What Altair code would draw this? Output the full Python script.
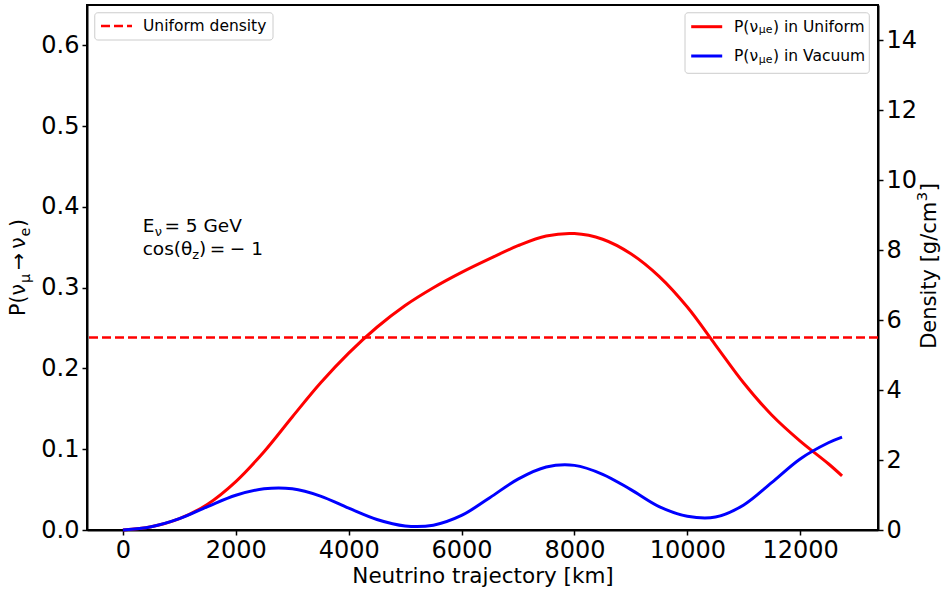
import altair as alt
import pandas as pd

# ---------------- data ----------------
km_uniform = [0, 500, 1000, 1500, 2000, 2500, 3000, 3500, 4000, 4500, 5000, 5500,
              6000, 6500, 7000, 7500, 8000, 8500, 9000, 9500, 10000, 10500, 11000,
              11500, 12000, 12500, 12742]
p_uniform = [0.0, 0.004, 0.014, 0.032, 0.060, 0.097, 0.140, 0.182, 0.219, 0.251, 0.278,
             0.300, 0.319, 0.336, 0.352, 0.364, 0.367, 0.360, 0.342, 0.314, 0.276, 0.229,
             0.182, 0.142, 0.110, 0.082, 0.067]

km_vacuum = [0, 500, 1000, 1500, 2000, 2500, 3000, 3500, 4000, 4500, 5000, 5500,
             6000, 6500, 7000, 7500, 8000, 8500, 9000, 9500, 10000, 10500, 11000,
             11500, 12000, 12500, 12742]
p_vacuum = [0.0, 0.004, 0.014, 0.029, 0.043, 0.051, 0.051, 0.042, 0.027, 0.013, 0.005,
            0.006, 0.018, 0.040, 0.063, 0.078, 0.080, 0.069, 0.050, 0.029, 0.017, 0.016,
            0.031, 0.059, 0.088, 0.108, 0.115]

uniform_density = [5.5]

x_ticks = [0, 2000, 4000, 6000, 8000, 10000, 12000]
p_ticks = [0.0, 0.1, 0.2, 0.3, 0.4, 0.5, 0.6]
density_ticks = [0, 2, 4, 6, 8, 10, 12, 14]

x_title = "Neutrino trajectory [km]"
legend_density_label = "Uniform density"
legend_uniform_label = ["P(ν", "μe", ") in Uniform"]
legend_vacuum_label = ["P(ν", "μe", ") in Vacuum"]
ytitle_pieces = ["P(ν", "μ", "→", "ν", "e", ")"]
density_title_pieces = ["Density [g/cm", "3", "]"]
annot1_pieces = ["E", "ν", "= 5 GeV"]
annot2_pieces = ["cos(θ", "z", ")", "=", "−", "1"]

# ---------------- style ----------------
FONT = "DejaVu Sans"
W, H = 791, 525
RED, BLUE = "#ff0000", "#0000ff"

CW = {'P': .603, '(': .390, ')': .390, 'ν': .592, 'μ': .635, 'e': .615, '→': .838,
      ' ': .318, 'i': .278, 'n': .634, 'U': .732, 'f': .352, 'o': .612, 'r': .411,
      'm': .974, 'V': .684, 'a': .613, 'c': .550, 'u': .634, 'E': .632, '=': .838,
      '5': .636, 'G': .775, 's': .521, 'θ': .602, 'z': .525, '−': .838, '1': .636,
      'D': .770, 'y': .592, 't': .392, '[': .390, ']': .390, 'g': .635, '/': .337,
      '3': .636}


def text_width(s, size):
    return sum(CW.get(ch, 0.6) for ch in s) * size


def pieces_layers(texts, sizes, dys, gaps, x, y, angle=0, baseline="alphabetic",
                  center=False):
    widths = [text_width(t, s) for t, s in zip(texts, sizes)]
    total = sum(widths) + sum(gaps)
    off = -total / 2 if center else 0
    out = []
    for t, s, dy, g, w in zip(texts, sizes, dys, gaps, widths):
        off += g
        out.append(
            alt.Chart(pd.DataFrame({"t": [t]}))
            .mark_text(font=FONT, fontSize=s, align="left", baseline=baseline,
                       dx=off, dy=dy, angle=angle, color="black")
            .encode(x=alt.value(x), y=alt.value(y), text="t:N")
        )
        off += w
    return out


def box(x1, x2, y1, y2):
    return (alt.Chart(pd.DataFrame({"b": [0]}))
            .mark_rect(fill="white", fillOpacity=0.8, stroke="#cccccc", strokeWidth=1,
                       cornerRadius=3)
            .encode(x=alt.value(x1), x2=alt.value(x2), y=alt.value(y1), y2=alt.value(y2)))


def handle(x1, x2, y, color, dash=None, width=3):
    kw = dict(color=color, strokeWidth=width)
    if dash:
        kw["strokeDash"] = dash
    return (alt.Chart(pd.DataFrame({"h": [0]})).mark_rule(**kw)
            .encode(x=alt.value(x1), x2=alt.value(x2), y=alt.value(y)))


# ---------------- main marks ----------------
xscale = alt.Scale(domain=[-637, 13379], nice=False, zero=False)
pscale = alt.Scale(domain=[0, 0.65], nice=False, zero=False)
dscale = alt.Scale(domain=[0, 15], nice=False, zero=False)

xaxis = alt.Axis(values=x_ticks, format="d", title=x_title, titlePadding=3)
paxis = alt.Axis(values=p_ticks, format=".1f", title=None)
daxis = alt.Axis(values=density_ticks, format="d", title=None, orient="right")

df_u = pd.DataFrame({"km": km_uniform, "P": p_uniform})
df_v = pd.DataFrame({"km": km_vacuum, "P": p_vacuum})

red_line = alt.Chart(df_u).mark_line(color=RED, strokeWidth=3, interpolate="catmull-rom").encode(
    x=alt.X("km:Q", scale=xscale, axis=xaxis),
    y=alt.Y("P:Q", scale=pscale, axis=paxis),
)
blue_line = alt.Chart(df_v).mark_line(color=BLUE, strokeWidth=3, interpolate="catmull-rom").encode(
    x=alt.X("km:Q", scale=xscale, axis=xaxis),
    y=alt.Y("P:Q", scale=pscale, axis=paxis),
)
left = alt.layer(red_line, blue_line)

dens = alt.Chart(pd.DataFrame({"d": uniform_density})).mark_rule(
    color=RED, strokeWidth=2.5, strokeDash=[9, 4]
).encode(y=alt.Y("d:Q", scale=dscale, axis=daxis))

# ---------------- decorations (legends, titles, annotation) ----------------
decor = []
# legend 1 (top-left)
decor.append(box(7.75, 186, 7.75, 35))
decor.append(handle(14, 45, 21, RED, dash=[9, 4], width=2.5))
decor += pieces_layers([legend_density_label], [15.5], [0], [0], 56, 21, baseline="middle")
# legend 2 (top-right)
decor.append(box(598, 782.3, 7.75, 68.3))
decor.append(handle(604.2, 635.2, 21.7, RED))
decor.append(handle(604.2, 635.2, 51, BLUE))
decor += pieces_layers(legend_uniform_label, [15.5, 10.9, 15.5], [0, 3.5, 0], [0, 0.3, 0.5],
                       647, 21.7, baseline="middle")
decor += pieces_layers(legend_vacuum_label, [15.5, 10.9, 15.5], [0, 3.5, 0], [0, 0.3, 0.5],
                       647, 51, baseline="middle")
# annotation
decor += pieces_layers(annot1_pieces, [18.5, 13, 18.5], [0, 4, 0], [0, 0.3, 2],
                       55.7, 226.7)
decor += pieces_layers(annot2_pieces, [18.5, 13, 18.5, 18.5, 18.5, 18.5],
                       [0, 4, 0, 0, 0, 0], [0, 0, 0, 3.5, 4.5, 6], 55.7, 250)
# left y title (rotated)
decor += pieces_layers(ytitle_pieces, [20.5, 14.3, 20.5, 20.5, 14.3, 20.5],
                       [0, 4.5, 0, 0, 4.5, 0], [0, 0.3, 4, 4, 0.3, 0.5],
                       -62, 262.5, angle=270, center=True)
# right y title (rotated)
decor += pieces_layers(density_title_pieces, [21, 14.7, 21], [0, -9, 0], [0, 0.5, 0.5],
                       849, 261, angle=270, center=True)

chart = (
    alt.layer(left, dens, *decor)
    .resolve_scale(y="independent")
    .properties(width=W, height=H, autosize="none",
                padding={"left": 87, "top": 5, "right": 64, "bottom": 60},
                background="white")
    .configure_axis(labelFont=FONT, labelFontSize=24, labelColor="black",
                    domainColor="black", domainWidth=2, tickColor="black", tickWidth=1.5,
                    tickSize=5, labelPadding=3, grid=False, titleFont=FONT,
                    titleFontSize=21.5, titleColor="black", titleFontWeight="normal")
    .configure_view(stroke="black", strokeWidth=2)
)

chart.save("out.html", embed_options={"renderer": "svg", "actions": False})
